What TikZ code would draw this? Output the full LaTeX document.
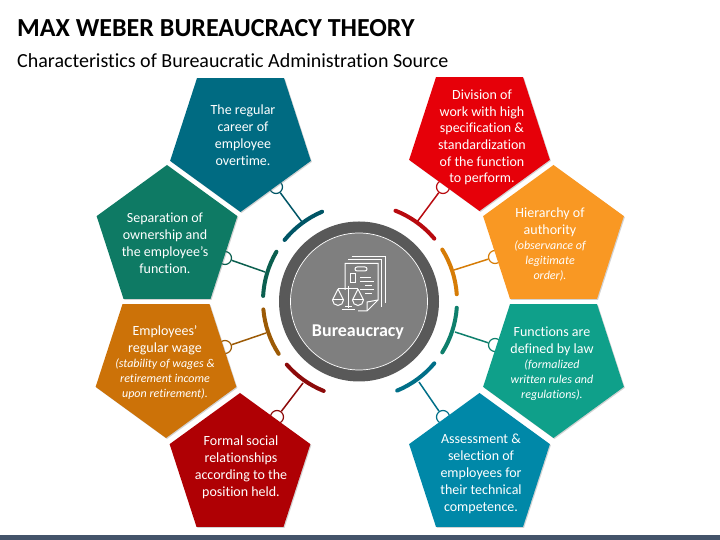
\documentclass[tikz,border=0pt]{standalone}
\usepackage{fontspec}
\setmainfont[Ligatures=NoCommon]{Carlito}
\usetikzlibrary{shapes.geometric,shadows}
\definecolor{careerC}{HTML}{006B82}
\definecolor{sepC}{HTML}{0E7A64}
\definecolor{wageC}{HTML}{CC7208}
\definecolor{formalC}{HTML}{AF0004}
\definecolor{divC}{HTML}{E60009}
\definecolor{hierC}{HTML}{F99823}
\definecolor{funcC}{HTML}{0FA08A}
\definecolor{assessC}{HTML}{0088A8}
\definecolor{careerD}{HTML}{005566}
\definecolor{sepD}{HTML}{0B5F4F}
\definecolor{wageD}{HTML}{9C5A05}
\definecolor{formalD}{HTML}{8C0A0A}
\definecolor{divD}{HTML}{B80A0F}
\definecolor{hierD}{HTML}{D67C06}
\definecolor{funcD}{HTML}{0E7F6C}
\definecolor{assessD}{HTML}{006F88}
\tikzset{
  penta/.style = {shape=regular polygon, regular polygon sides=5, minimum size=148pt,
    inner sep=0pt, drop shadow={shadow xshift=1pt, shadow yshift=-1pt, opacity=.35}},
  pentadown/.style = {penta, shape border rotate=180},
  bodytxt/.style = {text=white, align=center, font=\fontsize{14}{17}\selectfont},
  ringarc/.style = {line width=4pt, line cap=round},
  joint/.style = {shape=circle, draw, fill=white, line width=1.2pt, minimum size=13pt, inner sep=0pt},
  icon/.style = {draw=white, line width=1pt}
}
\newcommand{\smallit}[1]{{\fontsize{12}{15}\selectfont\itshape #1}}
\begin{document}
\begin{tikzpicture}[x=1pt, y=1pt]
	\useasboundingbox (0,0) rectangle (720,540);
	\fill [fill={rgb,255:red,68;green,84;blue,106}] (0,0) rectangle (720,5);
	\node (title) [anchor=west, inner sep=0pt, font=\fontsize{26}{30}\selectfont\bfseries] at (17,512) {MAX WEBER BUREAUCRACY THEORY};
	\node (subtitle) [anchor=west, inner sep=0pt, font=\fontsize{20}{24}\selectfont] at (17,479) {Characteristics of Bureaucratic Administration Source};

	% arcs, connectors and joints go under the pentagons
	\foreach \nm/\col/\sa/\ea/\ax/\ay/\cx/\cy in {
		career/careerD/113/141/302/318/276/353,
		sep/sepD/149.5/177/265/268/225/282,
		wage/wageD/185/213/266/207/225/193,
		formal/formalD/221/248/303/157/277/123,
		div/divD/40/68.5/417/318/443/353,
		hier/hierD/4/32/454/270/495/283,
		func/funcD/-32/-4/455/208/495/195,
		assess/assessD/-67.5/-40/419/158/443/123}
	{
		\draw [ringarc, \col] (360,239) ++(\sa:97) arc [start angle=\sa, end angle=\ea, radius=97];
		\coordinate (a\nm) at (\ax,\ay);
		\node (j\nm) [joint, draw=\col] at (\cx,\cy) {};
		\draw [\col, line width=1.5pt] (a\nm) -- (j\nm);
	}

	\node (pcareer) [pentadown, fill=careerC] at (240.5,402) {};
	\node (psep) [penta, fill=sepC] at (167,301) {};
	\node (pwage) [pentadown, fill=wageC] at (166,176) {};
	\node (pformal) [penta, fill=formalC] at (240,73) {};
	\node (pdiv) [pentadown, fill=divC] at (479.5,403) {};
	\node (phier) [penta, fill=hierC] at (553.5,301) {};
	\node (pfunc) [pentadown, fill=funcC] at (553.5,176) {};
	\node (passess) [penta, fill=assessC] at (479.5,73) {};

	\node (tcareer) [bodytxt] at (243,405) {The regular\\career of\\employee\\overtime.};
	\node (tsep) [bodytxt] at (165,297) {Separation of\\ownership and\\the employee’s\\function.};
	\node (twage) [bodytxt] at (165,177.5) {Employees’\\regular wage\\[-2pt]\smallit{(stability of wages \&}\\[-2pt]\smallit{retirement income}\\[-2pt]\smallit{upon retirement).}};
	\node (tformal) [bodytxt] at (241,73) {Formal social\\relationships\\according to the\\position held.};
	\node (tdiv) [bodytxt, font=\fontsize{14}{16.7}\selectfont] at (482,402.5) {Division of\\work with high\\specification \&\\standardization\\of the function\\to perform.};
	\node (thier) [bodytxt] at (550,296) {Hierarchy of\\authority\\[-2pt]\smallit{(observance of}\\[-2pt]\smallit{legitimate}\\[-2pt]\smallit{order).}};
	\node (tfunc) [bodytxt] at (552,176.5) {Functions are\\defined by law\\[-2pt]\smallit{(formalized}\\[-2pt]\smallit{written rules and}\\[-2pt]\smallit{regulations).}};
	\node (tassess) [bodytxt] at (481,66) {Assessment \&\\selection of\\employees for\\their technical\\competence.};

	% middle disc
	\node (ring) [shape=circle, fill={rgb,255:red,89;green,89;blue,89}, minimum size=160pt, inner sep=0pt] at (359,238.5) {};
	\node (disc) [shape=circle, fill={rgb,255:red,127;green,127;blue,127}, draw=white, line width=.7pt, minimum size=137pt, inner sep=0pt] at (359,238.5) {};
	\node (bureau) [text=white, inner sep=0pt, font=\fontsize{18}{20}\selectfont\bfseries] at (358,208) {Bureaucracy};

	% icon
	\draw [icon] (351.7,283.3) -- (385,283.3) -- (385,236.7);
	\draw [icon] (348.3,280) -- (381.7,280) -- (381.7,233.3);
	\draw [icon] (345,250) -- (345,276.7) -- (378,276.7) -- (378,240) -- (367,229) -- (358,229);
	\draw [icon] (367,229) -- (367,238) -- (378,240);
	\draw [icon, rounded corners=2pt] (355,273) rectangle (367,269);
	\draw [icon] (350,266) rectangle (355.7,257.3);
	\draw [icon] (360,262) -- (371,262);
	\draw [icon] (360,258) -- (374,258);
	\draw [icon] (365,254) -- (372,254);
	\draw [icon] (360,250) -- (374,250);
	\draw [icon] (365,246) -- (372,246);
	\draw [icon] (348,254) -- (348,232);
	\draw [icon] (338,251) -- (358,251);
	\draw [icon] (338,251) -- (332.5,240) arc [start angle=180, end angle=360, radius=5.5] -- (338,251);
	\draw [icon] (332.5,240) -- (343.5,240);
	\draw [icon] (358,251) -- (352.5,240) arc [start angle=180, end angle=360, radius=5.5] -- (358,251);
	\draw [icon] (352.5,240) -- (363.5,240);
	\draw [icon] (341.7,230) -- (355,230);
	\draw [icon] (345,233) -- (352,233);
\end{tikzpicture}
\end{document}
